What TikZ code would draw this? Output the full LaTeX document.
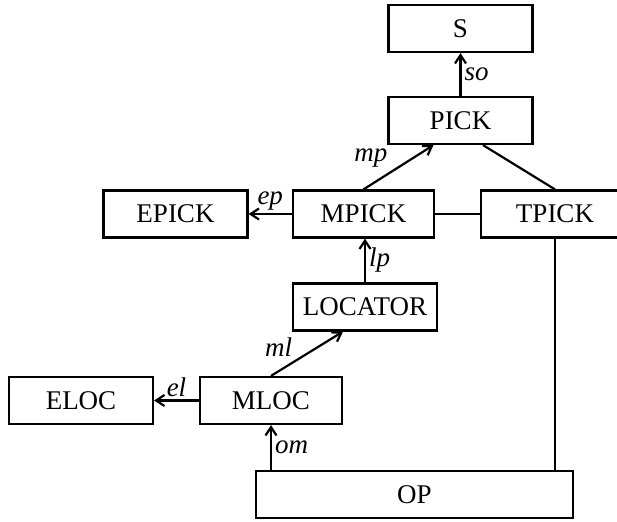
\documentclass[tikz,border=0pt]{standalone}
\usepackage{fontspec}
\setmainfont{Liberation Serif}
\usetikzlibrary{arrows.meta,calc}

\begin{document}
\begin{tikzpicture}[x=0.5pt, y=-0.5pt, line width=1.1pt,
  every node/.style={font=\fontsize{13.5}{16}\selectfont},
  blk/.style={draw, rectangle, inner sep=0pt, minimum height=23.5pt, minimum width=72pt},
  lbl/.style={font=\fontsize{13.5}{16}\selectfont\itshape, inner sep=1.5pt},
  >={Straight Barb[length=4.2pt,width=5.5pt]}]
\path[use as bounding box] (0,0) rectangle (617,522);
\clip (0,0) rectangle (617,522);

\node(S)[blk] at (460.5,28.5) {S};
\node(PICK)[blk] at (460.5,120.5) {PICK};

\node(EPICK)[blk] at (175.5,214) {EPICK};
\node(MPICK)[blk, minimum width=70.5pt] at (363.5,214) {MPICK};
\node(TPICK)[blk, minimum width=74pt] at (555,214) {TPICK};

\node(LOC)[blk] at (365,307) {LOCATOR};

\node(ELOC)[blk] at (81,400.5) {ELOC};
\node(MLOC)[blk, minimum width=71pt] at (271,400.5) {MLOC};

\node(OP)[blk, minimum width=158.5pt] at (414.5,494.5) {OP};

% attachment points on the lower edges
\coordinate (pl) at ($(PICK.south)+(-27,0)$);
\coordinate (pr) at ($(PICK.south)+(22.5,0)$);
\coordinate (ll) at ($(LOC.south)+(-22,0)$);

\draw[->] (PICK.north) -- node[lbl, right] {so} (S.south);
\draw[->] (MPICK.north) -- node[lbl, above left, pos=0.4] {mp} (pl);
\draw (pr) -- (TPICK.north);
\draw (MPICK.east) -- (TPICK.west);
\draw[->] (MPICK.west) -- node[lbl, above] {ep} (EPICK.east);
\draw[->] (LOC.north) -- node[lbl, right] {lp} (LOC.north |- MPICK.south);
\draw[->] (MLOC.north) -- node[lbl, above left, pos=0.35] {ml} (ll);
\draw[->] (MLOC.west) -- node[lbl, above] {el} (ELOC.east);
\draw[->] (MLOC.south |- OP.north) -- node[lbl, right] {om} (MLOC.south);
\draw (TPICK.south) -- (TPICK.south |- OP.north);
\end{tikzpicture}
\end{document}
